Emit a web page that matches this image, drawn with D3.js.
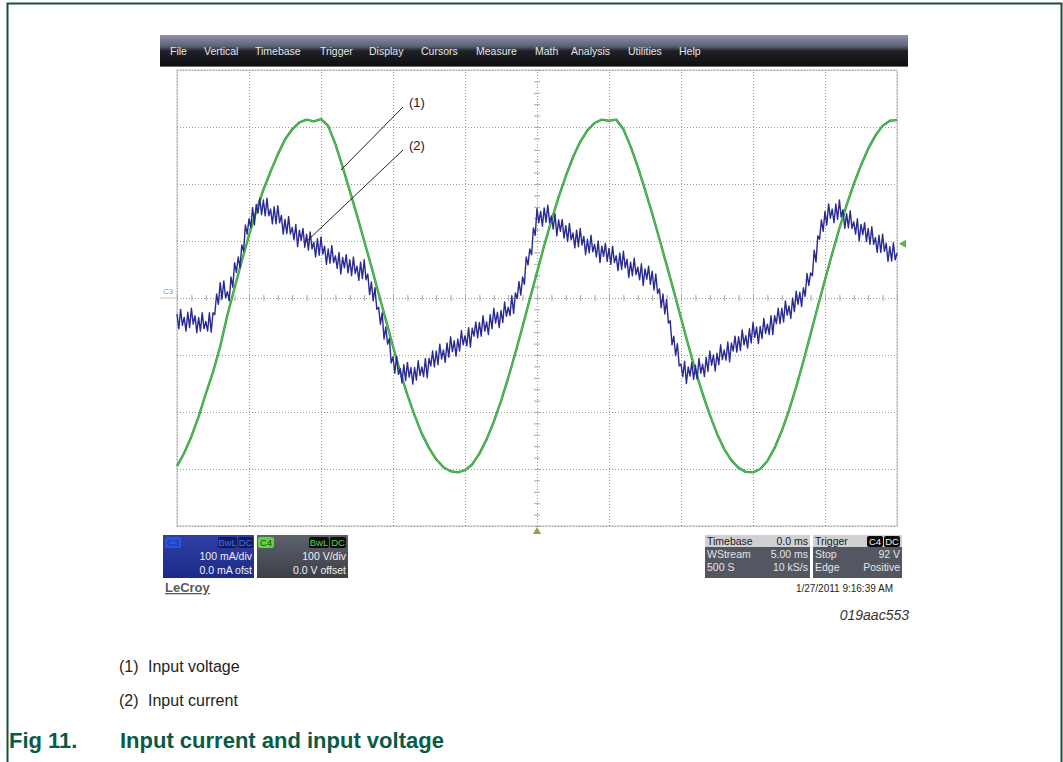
<!DOCTYPE html>
<html><head><meta charset="utf-8">
<script src="https://cdn.jsdelivr.net/npm/d3@7"></script>
<style>body{margin:0;background:#fff;} svg{display:block;font-family:"Liberation Sans",Arial,sans-serif;}</style>
</head><body><svg id="c" width="1063" height="762"></svg>
<script>
// ---- data ----
const menuItems = ["File","Vertical","Timebase","Trigger","Display","Cursors","Measure","Math","Analysis","Utilities","Help"];
const menuX = [170,204,255,320,369,421,476,535,571,628,679];
const timeRangeMs = [0, 50];          // 10 div x 5.00 ms/div
const ampRange = [-400, 400];         // 8 div x 100 V/div (and 100 mA/div)
const voltStepMs = 0.5;
const voltageV = [-295,-272,-243,-208,-168,-130,-85,-30,18,65,110,152,190,222,252,278,296,308,313,310,314,302,270,230,188,145,100,55,8,-38,-85,-130,-170,-206,-238,-263,-283,-297,-304,-306,-302,-292,-273,-248,-217,-181,-140,-96,-50,-2,45,92,136,177,214,247,274,294,307,313,311,313,296,266,230,190,148,104,58,12,-35,-82,-127,-168,-205,-238,-265,-285,-298,-305,-306,-300,-286,-263,-233,-197,-156,-111,-63,-15,32,78,122,163,200,233,262,285,302,311,312];
const currStepMs = 0.125;
const currentmA = [
-28,-54,-20,-48,-34,-58,-25,-52,-18,-46,-31,-61,-34,-58,-26,-54,-41,-58,-26,-60,
-26,-29,7,-11,27,-2,30,0,11,-5,37,19,62,45,72,53,93,82,128,112,
139,124,159,128,164,149,175,146,172,144,175,144,156,130,160,130,162,132,145,112,
138,113,143,112,124,102,129,90,119,101,122,89,112,84,116,86,98,72,104,75,
107,77,91,59,86,61,92,62,74,52,80,42,71,53,76,44,67,39,72,43,
56,31,63,34,67,32,42,6,28,-5,18,-20,-16,-46,-26,-72,-51,-81,-71,-114,
-103,-132,-102,-134,-124,-149,-117,-145,-113,-139,-122,-151,-122,-144,-110,-136,-121,-138,-106,-140,
-106,-119,-93,-121,-93,-117,-81,-107,-91,-113,-79,-104,-68,-94,-75,-102,-72,-93,-57,-82,
-66,-84,-52,-86,-53,-67,-42,-70,-43,-67,-31,-58,-42,-64,-29,-54,-18,-44,-25,-52,
-22,-43,-7,-32,-16,-31,4,-27,9,-1,29,5,37,24,72,58,86,76,123,110,
157,132,152,126,158,133,163,132,144,121,148,109,137,117,138,105,127,99,131,102,
114,88,119,90,122,93,108,76,103,79,110,81,94,72,100,62,91,73,96,64,
87,59,91,62,74,48,79,50,82,53,68,36,63,39,70,41,54,32,60,22,
51,33,56,24,47,14,42,8,16,-17,7,-28,-3,-44,-40,-82,-67,-101,-80,-119,
-116,-138,-111,-150,-121,-137,-113,-143,-118,-142,-106,-132,-116,-138,-104,-129,-93,-118,-100,-128,
-97,-117,-82,-108,-91,-109,-77,-112,-79,-93,-67,-95,-68,-92,-56,-82,-66,-88,-54,-79,
-43,-69,-51,-80,-50,-71,-36,-62,-46,-64,-31,-64,-31,-45,-18,-45,-18,-42,-5,-30,
-14,-36,0,-24,12,-11,10,-15,18,3,43,22,44,39,84,63,109,103,137,117,
152,128,165,140,156,132,165,138,172,142,155,122,148,123,153,122,134,112,139,100,
129,111,132,99,122,94,125,94,106,80,110,80,112,82,96,64,90,65,97,67,
79];
const legendKeys = ["(1)","(2)"];
const legendNames = ["Input voltage","Input current"];
const caption = ["Fig 11.","Input current and input voltage"];
const c3Rows = ["100 mA/div","0.0 mA ofst"];
const c4Rows = ["100 V/div","0.0 V offset"];
const tbRows = [["Timebase","0.0 ms"],["WStream","5.00 ms"],["500 S","10 kS/s"]];
const trRows = [["Trigger",""],["Stop","92 V"],["Edge","Positive"]];
const dateText = "1/27/2011 9:16:39 AM";
const figId = "019aac553";

// ---- drawing ----
const svg = d3.select("#c");
const defs = svg.append("defs");
const L = 177, R = 897, T = 70, B = 526;
const x = d3.scaleLinear().domain(timeRangeMs).range([L, R]);
const y = d3.scaleLinear().domain(ampRange).range([B, T]);

// outer frame
svg.append("path").attr("d","M7.5,762 V3.5 H1061.5 V762").attr("fill","none").attr("stroke","#17503f").attr("stroke-width",2);

// menu bar
const mg = defs.append("linearGradient").attr("id","mg").attr("x1",0).attr("y1",0).attr("x2",0).attr("y2",1);
[[0,"#8d92a8"],[0.35,"#5d6176"],[0.5,"#202127"],[1,"#0d0d0f"]].forEach(s=>mg.append("stop").attr("offset",s[0]).attr("stop-color",s[1]));
svg.append("rect").attr("x",160).attr("y",35).attr("width",748).attr("height",32).attr("fill","url(#mg)");
svg.append("line").attr("x1",160).attr("x2",908).attr("y1",66.5).attr("y2",66.5).attr("stroke","#6c6c6c");
svg.selectAll("text.menu").data(menuItems).join("text").attr("class","menu")
  .attr("x",(d,i)=>menuX[i]).attr("y",55).attr("fill","#e6e6e6").attr("font-size",10.5).text(d=>d);

// plot frame
svg.append("rect").attr("x",L).attr("y",T).attr("width",R-L).attr("height",B-T).attr("fill","#fff").attr("stroke","#bdbdbd");

// grid
const gx = svg.append("g").attr("transform",`translate(0,${B})`)
  .call(d3.axisBottom(x).tickValues(d3.range(0,51,5)).tickSize(-(B-T)).tickFormat(""));
const gy = svg.append("g").attr("transform",`translate(${L},0)`)
  .call(d3.axisLeft(y).tickValues(d3.range(-400,401,100)).tickSize(-(R-L)).tickFormat(""));
[gx,gy].forEach(g=>{g.select(".domain").remove();
  g.selectAll(".tick line").attr("stroke","#9a9a9a").attr("stroke-dasharray","1,2");});

// centre minor ticks
const cx = svg.append("g").attr("transform",`translate(0,${y(0)+3})`)
  .call(d3.axisTop(x).tickValues(d3.range(0,51,1)).tickSize(6).tickFormat(""));
const cy = svg.append("g").attr("transform",`translate(${x(25)-3},0)`)
  .call(d3.axisRight(y).tickValues(d3.range(-400,401,20)).tickSize(6).tickFormat(""));
[cx,cy].forEach(g=>{g.select(".domain").remove(); g.selectAll(".tick line").attr("stroke","#a8a8a8");});

// traces
const line = (step)=>d3.line().x((d,i)=>x(i*step)).y(d=>y(d));
svg.append("path").datum(voltageV).attr("d",line(voltStepMs)).attr("fill","none")
  .attr("stroke","#2f9a3c").attr("stroke-width",2.4).attr("stroke-linejoin","round");
svg.append("path").datum(voltageV).attr("d",line(voltStepMs)).attr("fill","none")
  .attr("stroke","#62d05c").attr("stroke-width",0.8);
svg.append("path").datum(currentmA).attr("d",line(currStepMs)).attr("fill","none")
  .attr("stroke","#2a2a92").attr("stroke-width",1.4).attr("stroke-linejoin","round");

// markers
svg.append("text").attr("x",163).attr("y",294).attr("font-size",8).attr("fill","#8f9d66").text("C3");
svg.append("line").attr("x1",160).attr("x2",L).attr("y1",y(0)).attr("y2",y(0)).attr("stroke","#c9cc9a");
svg.append("path").attr("d",`M${x(25)},${B+1} l-4,7 h8 z`).attr("fill","#9a9c4c");
svg.append("path").attr("d",`M${R+2},${y(95)} l7,-4 v8 z`).attr("fill","#55b848");

// annotations (1) (2)
svg.append("line").attr("x1",403).attr("y1",107).attr("x2",341).attr("y2",170).attr("stroke","#222").attr("stroke-width",1);
svg.append("line").attr("x1",403).attr("y1",150).attr("x2",306).attr("y2",242).attr("stroke","#222").attr("stroke-width",1);
svg.append("text").attr("x",409).attr("y",107).attr("font-size",13).attr("fill","#222").text("(1)");
svg.append("text").attr("x",409).attr("y",150).attr("font-size",13).attr("fill","#222").text("(2)");

// channel boxes
function badge(g, bx, by, w, txt, bg, fg){
  g.append("rect").attr("x",bx).attr("y",by).attr("width",w).attr("height",11).attr("rx",2).attr("fill",bg);
  g.append("text").attr("x",bx+w/2).attr("y",by+9).attr("text-anchor","middle").attr("font-size",9.5).attr("fill",fg).text(txt);
}
const g3 = defs.append("linearGradient").attr("id","g3").attr("x1",0).attr("y1",0).attr("x2",0).attr("y2",1);
[[0,"#2f3fa6"],[1,"#1c2a86"]].forEach(s=>g3.append("stop").attr("offset",s[0]).attr("stop-color",s[1]));
const g4 = defs.append("linearGradient").attr("id","g4").attr("x1",0).attr("y1",0).attr("x2",0).attr("y2",1);
[[0,"#5d616b"],[1,"#3c3f48"]].forEach(s=>g4.append("stop").attr("offset",s[0]).attr("stop-color",s[1]));

const bx = svg.append("g");
bx.append("rect").attr("x",163).attr("y",535).attr("width",91).attr("height",43).attr("fill","url(#g3)");
badge(bx,165,537,16,"C3","#2a55d6","#1530a0");
badge(bx,218,537,19,"BwL","#131b55","#3f6cff");
badge(bx,238,537,15,"DC","#131b55","#3f6cff");
c3Rows.forEach((t,i)=>bx.append("text").attr("x",252).attr("y",560+i*14).attr("text-anchor","end").attr("font-size",10.5).attr("fill","#f0f0f0").text(t));

bx.append("rect").attr("x",257).attr("y",535).attr("width",91).attr("height",43).attr("fill","url(#g4)");
badge(bx,258,537,16,"C4","#66d13f","#134d10");
badge(bx,309,537,20,"BwL","#0c0c0c","#5fd14a");
badge(bx,330,537,16,"DC","#0c0c0c","#5fd14a");
c4Rows.forEach((t,i)=>bx.append("text").attr("x",346).attr("y",560+i*14).attr("text-anchor","end").attr("font-size",10.5).attr("fill","#f0f0f0").text(t));

svg.append("text").attr("x",165).attr("y",592).attr("font-size",13).attr("font-weight","bold").attr("fill","#5a5a5a")
  .attr("text-decoration","underline").text("LeCroy");

// timebase & trigger
function infoBox(x0, w, rows){
  const g = svg.append("g");
  g.append("rect").attr("x",x0).attr("y",535).attr("width",w).attr("height",12).attr("fill","#cfd0d4");
  g.append("rect").attr("x",x0).attr("y",547).attr("width",w).attr("height",31).attr("fill","#535762");
  rows.forEach((r,i)=>{
    const yy = 545 + i*13;
    const col = i===0 ? "#1a1a1a" : "#e4e4e4";
    g.append("text").attr("x",x0+2).attr("y",yy).attr("font-size",10.5).attr("fill",col).text(r[0]);
    g.append("text").attr("x",x0+w-2).attr("y",yy).attr("text-anchor","end").attr("font-size",10.5).attr("fill",col).text(r[1]);
  });
  return g;
}
infoBox(705,105,tbRows);
const tg = infoBox(813,89,trRows);
badge(tg,867,536,16,"C4","#0a0a0a","#f0f0f0");
badge(tg,884,536,16,"DC","#0a0a0a","#f0f0f0");
svg.append("text").attr("x",893).attr("y",592).attr("text-anchor","end").attr("font-size",10).attr("fill","#222").text(dateText);

svg.append("text").attr("x",909).attr("y",620).attr("text-anchor","end").attr("font-size",14).attr("font-style","italic").attr("fill","#333").text(figId);

// legend
legendKeys.forEach((k,i)=>{
  svg.append("text").attr("x",119).attr("y",672+i*34).attr("font-size",16).attr("fill","#1e1e1e").text(k);
  svg.append("text").attr("x",148).attr("y",672+i*34).attr("font-size",16).attr("fill","#1e1e1e").text(legendNames[i]);
});
svg.append("text").attr("x",9).attr("y",748).attr("font-size",22).attr("font-weight","bold").attr("fill","#0b5a45").text(caption[0]);
svg.append("text").attr("x",120).attr("y",748).attr("font-size",22).attr("font-weight","bold").attr("fill","#0b5a45").text(caption[1]);
</script></body></html>
